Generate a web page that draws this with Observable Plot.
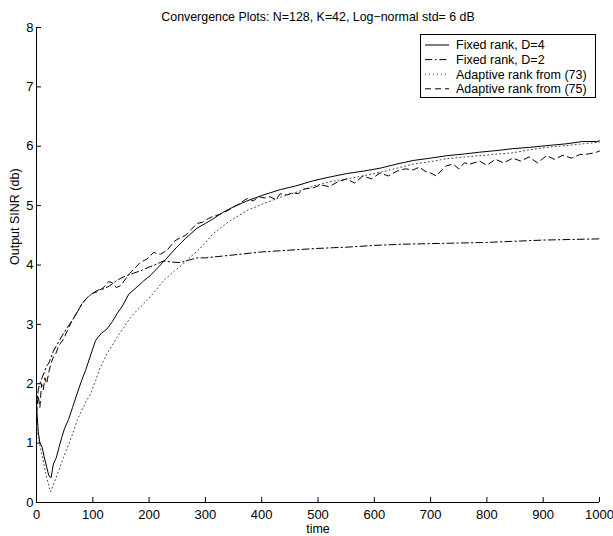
<!DOCTYPE html>
<html><head><meta charset="utf-8">
<script src="https://cdn.jsdelivr.net/npm/d3@7"></script>
<script src="https://cdn.jsdelivr.net/npm/@observablehq/plot@0.6"></script>
<style>body{margin:0;background:#fff}#chart{width:613px;height:536px}</style>
</head><body><div id="chart"></div>
<script>
const title = "Convergence Plots: N=128, K=42, Log\u2212normal std= 6 dB";
const xLabel = "time";
const yLabel = "Output SINR (db)";
const xTicks = [0,100,200,300,400,500,600,700,800,900,1000];
const yTicks = [0,1,2,3,4,5,6,7,8];
const seriesNames = ["Fixed rank, D=4","Fixed rank, D=2","Adaptive rank from (73)","Adaptive rank from (75)"];

// Fixed rank, D=4 (solid)
const tD4 = [0,3,6,10,14,18,22,26,30,35,40,45,50,57,64,72,80,87,95,105,115,125,135,143,152,164,175,190,202,214,230,249,265,285,300,314,330,350,374,400,433,460,492,520,551,580,610,640,669,700,728,760,787,820,846,875,906,940,970,995,1000];
const vD4 = [1.65,1.2,1.0,0.93,0.75,0.6,0.45,0.42,0.65,0.75,0.93,1.1,1.25,1.4,1.6,1.83,2.05,2.22,2.45,2.73,2.85,2.92,3.05,3.18,3.3,3.51,3.6,3.73,3.82,3.94,4.1,4.3,4.45,4.62,4.7,4.78,4.88,4.98,5.08,5.17,5.27,5.33,5.42,5.48,5.54,5.58,5.63,5.7,5.76,5.8,5.84,5.87,5.9,5.93,5.96,5.98,6.01,6.04,6.08,6.08,6.09];

// Fixed rank, D=2 (dash-dot)
const tD2 = [0,3,6,10,14,18,22,26,30,36,42,48,55,63,72,81,90,99,110,120,130,140,150,160,172,184,196,210,226,240,255,270,285,300,330,360,400,450,500,550,600,650,700,750,800,850,900,950,1000];
const vD2 = [1.6,1.9,2.0,2.1,2.2,2.3,2.35,2.45,2.55,2.65,2.75,2.85,2.95,3.06,3.2,3.35,3.45,3.52,3.58,3.6,3.65,3.72,3.78,3.82,3.86,3.9,3.95,4.0,4.07,4.05,4.04,4.08,4.12,4.12,4.15,4.18,4.22,4.25,4.28,4.3,4.33,4.35,4.36,4.37,4.38,4.4,4.42,4.43,4.44];

// Adaptive rank from (73) (dotted)
const tA73 = [0,5,10,15,20,25,30,40,48,56,64,72,80,88,96,105,113,125,143,155,167,180,196,210,226,245,261,275,291,314,340,374,400,433,460,492,520,551,580,610,640,669,700,728,760,787,820,846,875,906,940,970,1000];
const vA73 = [1.3,1.0,0.8,0.55,0.35,0.18,0.3,0.55,0.76,0.95,1.15,1.38,1.55,1.7,1.83,2.05,2.27,2.5,2.78,2.95,3.12,3.25,3.4,3.55,3.74,3.9,4.02,4.15,4.28,4.53,4.72,4.92,5.02,5.14,5.22,5.33,5.4,5.45,5.5,5.56,5.63,5.7,5.74,5.79,5.82,5.84,5.87,5.89,5.94,5.98,6.01,6.04,6.07];

// Adaptive rank from (75) (dashed)
const tA75 = [0,3,6,9,12,15,18,22,26,30,34,40,48,55,63,72,81,90,99,108,119,128,135,142,149,157,165,175,184,196,208,220,232,245,255,265,275,285,295,305,314,325,340,355,374,385,395,405,415,425,433,445,455,465,475,492,505,520,535,551,565,580,595,610,625,640,655,669,680,690,700,710,720,728,740,750,760,770,787,800,815,830,846,860,875,890,906,920,935,950,965,980,995,1000];
const vA75 = [1.5,1.8,1.6,2.0,1.9,2.1,2.0,2.2,2.35,2.45,2.5,2.65,2.75,2.9,3.06,3.2,3.35,3.45,3.52,3.55,3.62,3.72,3.7,3.62,3.65,3.75,3.85,3.95,4.04,4.1,4.21,4.18,4.25,4.4,4.46,4.5,4.6,4.7,4.72,4.78,4.82,4.85,4.92,5.0,5.12,5.08,5.15,5.13,5.15,5.1,5.2,5.18,5.22,5.2,5.28,5.3,5.35,5.32,5.4,5.45,5.38,5.5,5.45,5.55,5.5,5.58,5.62,5.6,5.65,5.58,5.55,5.5,5.6,5.67,5.7,5.62,5.72,5.7,5.75,5.68,5.78,5.72,5.8,5.75,5.82,5.72,5.84,5.78,5.85,5.8,5.86,5.87,5.9,5.92];

const mk = (name, t, v) => t.map((x, i) => ({series: name, time: x, sinr: v[i]}));
const seriesData = [mk(seriesNames[0], tD4, vD4), mk(seriesNames[1], tD2, vD2), mk(seriesNames[2], tA73, vA73), mk(seriesNames[3], tA75, vA75)];
const dashes = ["none", "7,3,1.5,3", "1,3", "6,4"];
const strokes = ["#000", "#000", "#444", "#000"];

const font = "'Liberation Sans', Arial, Helvetica, sans-serif";
const svg = Plot.plot({
  width: 613, height: 536,
  marginLeft: 36, marginRight: 14, marginTop: 27, marginBottom: 34,
  style: {fontFamily: font, fontSize: "13px", background: "#fff", color: "#000", overflow: "visible"},
  x: {domain: [0, 1000]},
  y: {domain: [0, 8]},
  marks: [
    Plot.axisX({ticks: xTicks, tickSize: -5, tickPadding: 12, label: null, tickFormat: d => String(d)}),
    Plot.axisY({ticks: yTicks, tickSize: -5, tickPadding: 8, label: null, tickFormat: d => String(d)}),
    Plot.ruleX([0]),
    Plot.ruleY([0]),
    ...seriesData.map((d, i) => Plot.line(d, {x: "time", y: "sinr", stroke: strokes[i], strokeWidth: 1, strokeDasharray: dashes[i]})),
    Plot.text([title], {text: d => d, frameAnchor: "top", dy: -15, fontSize: 12.4}),
    Plot.text([xLabel], {text: d => d, frameAnchor: "bottom", dy: 30, fontSize: 12.5}),
    Plot.text([yLabel], {text: d => d, frameAnchor: "left", rotate: -90, dx: -22, fontSize: 12.5})
  ]
});

// legend
const g = d3.select(svg).append("g").attr("font-family", font).attr("font-size", 12.5).attr("text-anchor", "start");
g.append("rect").attr("x", 420.5).attr("y", 34.5).attr("width", 175).attr("height", 63)
  .attr("fill", "#fff").attr("stroke", "#000").attr("stroke-width", 1);
seriesNames.forEach((name, i) => {
  const y = 45 + i * 14.6;
  g.append("line").attr("x1", 425).attr("x2", 449).attr("y1", y).attr("y2", y)
    .attr("stroke", strokes[i]).attr("stroke-width", 1).attr("stroke-dasharray", dashes[i]);
  g.append("text").attr("x", 456).attr("y", y).attr("dy", "0.35em").attr("text-anchor", "start").text(name);
});
document.getElementById("chart").appendChild(svg);
</script>
</body></html>
